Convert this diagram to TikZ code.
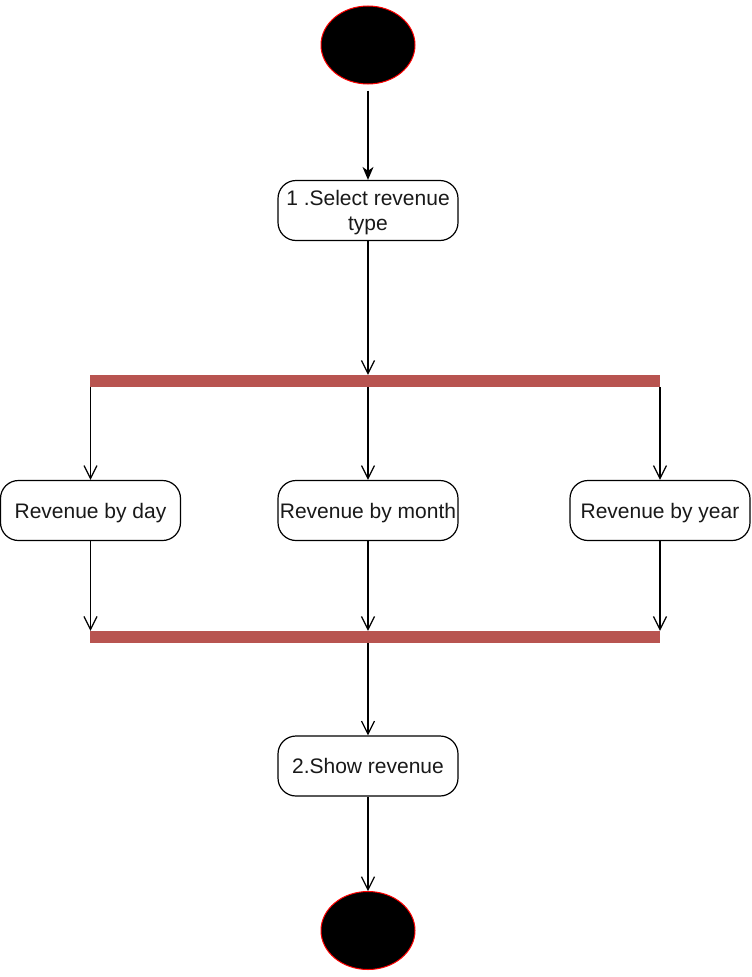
\documentclass[tikz,border=0pt]{standalone}
\usepackage{fontspec}
\setmainfont{Liberation Sans}
\usetikzlibrary{arrows.meta,shapes.geometric}
\definecolor{barred}{HTML}{B85450}
\begin{document}
\begin{tikzpicture}[x=1pt,y=-1pt,
  act/.style={draw=black, line width=1.2pt, rounded corners=18pt, minimum width=180pt, minimum height=60pt, inner sep=0pt, font=\fontsize{21}{25}\selectfont, align=center, fill=white, text=black!90, text depth=0pt},
  term/.style={ellipse, draw=red, line width=1pt, fill=black, minimum width=94pt, minimum height=78pt, inner sep=0pt},
  bar/.style={fill=barred, draw=none, minimum width=570pt, minimum height=12pt, inner sep=0pt},
  flow/.style={draw=black, line width=1.2pt, -{Straight Barb[length=13pt,width=13pt,line width=1.2pt]}},
  firstflow/.style={draw=black, line width=1.4pt, -{Stealth[length=13pt,width=11pt,inset=4pt]}}
]
\useasboundingbox (0,0) rectangle (752,977);
\node[term] (start) at (368,45) {};
\node[act] (sel) at (368,210.5) {1 .Select revenue\\type};
\node[bar] (fork) at (375,381) {};
\node[act] (day) at (90.5,510.5) {Revenue by day};
\node[act] (month) at (368,510.5) {Revenue by month};
\node[act] (year) at (660,510.5) {Revenue by year};
\node[bar] (join) at (375,637) {};
\node[act] (show) at (368,766) {2.Show revenue};
\node[term] (end) at (368,930.5) {};

\draw[firstflow, shorten <=6pt] (start) -- (sel);
\draw[flow] (sel) -- (sel |- fork.north);
\draw[flow] (fork.south -| day) -- (day);
\draw[flow] (fork.south -| month) -- (month);
\draw[flow] (fork.south -| year) -- (year);
\draw[flow] (day) -- (day |- join.north);
\draw[flow] (month) -- (month |- join.north);
\draw[flow] (year) -- (year |- join.north);
\draw[flow] (join.south -| show) -- (show);
\draw[flow] (show) -- (end);
\end{tikzpicture}
\end{document}
